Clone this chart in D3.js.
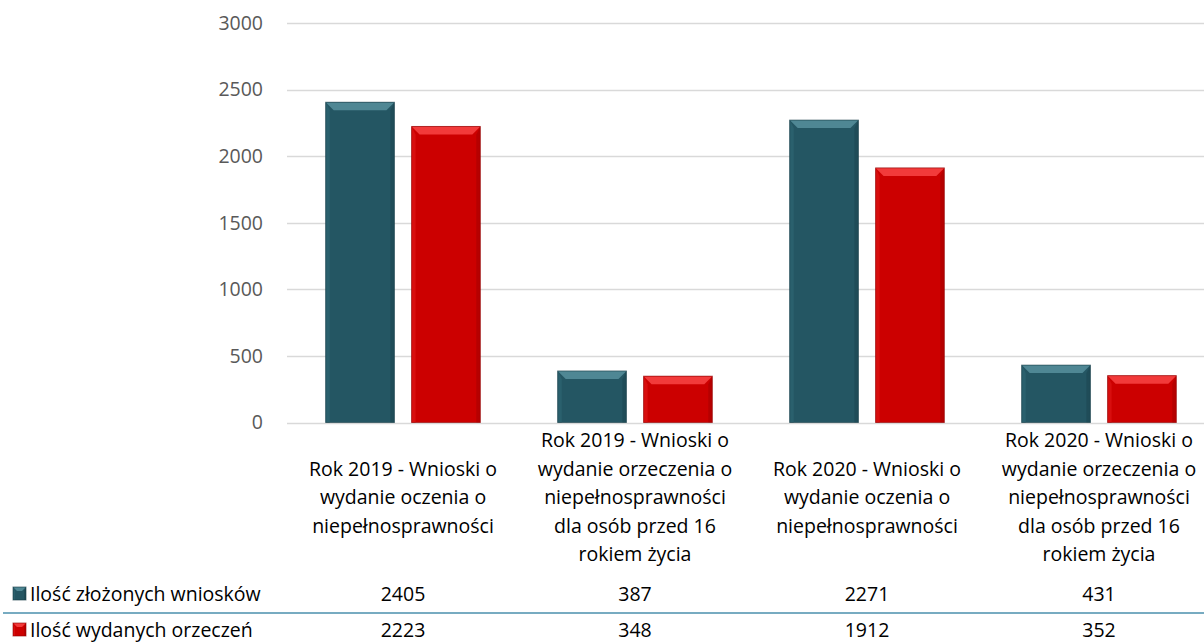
<!DOCTYPE html>
<html><head><meta charset="utf-8">
<script src="https://cdn.jsdelivr.net/npm/d3@7"></script>
<style>
html,body{margin:0;padding:0;background:#fff;}
svg{display:block;font-family:"Open Sans",sans-serif;}
</style></head>
<body>
<svg id="chart" width="1204" height="642"></svg>
<script>
const categories = [
  ["Rok 2019 - Wnioski o","wydanie oczenia o","niepełnosprawności"],
  ["Rok 2019 - Wnioski o","wydanie orzeczenia o","niepełnosprawności","dla osób przed 16","rokiem życia"],
  ["Rok 2020 - Wnioski o","wydanie oczenia o","niepełnosprawności"],
  ["Rok 2020 - Wnioski o","wydanie orzeczenia o","niepełnosprawności","dla osób przed 16","rokiem życia"]
];
const seriesNames = ["Ilość złożonych wniosków","Ilość wydanych orzeczeń"];
const zlozone = [2405, 387, 2271, 431];
const wydane = [2223, 348, 1912, 352];
const yTicks = [0, 500, 1000, 1500, 2000, 2500, 3000];

const series = [
  {name: seriesNames[0], values: zlozone, base:"#245663", light:"#4f8794", dark:"#163a44", side:"#2e6572"},
  {name: seriesNames[1], values: wydane, base:"#cc0000", light:"#f23a3a", dark:"#8c0000", side:"#dd1414"}
];

const FS = 19.5;
const svg = d3.select("#chart");
const left = 287, right = 287 + 4*232;
const x = d3.scaleBand().domain(d3.range(categories.length)).range([left, right]).paddingInner(0).paddingOuter(0);
const xs = d3.scaleBand().domain(d3.range(series.length)).range([0, x.bandwidth()]).paddingInner(0.2).paddingOuter(0.45);
const y = d3.scaleLinear().domain([0, 3000]).range([422.5, 23]);

// gridlines
svg.append("g").selectAll("line").data(yTicks).join("line")
  .attr("x1", left).attr("x2", 1204)
  .attr("y1", d => Math.round(y(d))+0.5).attr("y2", d => Math.round(y(d))+0.5)
  .attr("stroke", "#d9d9d9").attr("stroke-width", 1.5);

// y axis labels
const yAxis = d3.axisLeft(y).tickValues(yTicks).tickFormat(d3.format("d")).tickSize(0).tickPadding(0);
const ya = svg.append("g").attr("transform", `translate(263,0)`).call(yAxis);
ya.select(".domain").remove();
ya.attr("font-size", FS).attr("font-family", "Open Sans");
ya.selectAll("text").attr("fill", "#595959");

// bars with bevel
function bevelBar(g, bx, by, bw, bh, s, b) {
  b = Math.min(b, bh/2, bw/2);
  g.append("rect").attr("x", bx).attr("y", by).attr("width", bw).attr("height", bh).attr("fill", s.base);
  g.append("polygon").attr("points", `${bx},${by} ${bx+bw},${by} ${bx+bw-b},${by+b} ${bx+b},${by+b}`).attr("fill", s.light);
  g.append("polygon").attr("points", `${bx},${by} ${bx+b*0.5},${by+b} ${bx+b*0.5},${by+bh} ${bx},${by+bh}`).attr("fill", s.side).attr("opacity", 0.7);
  g.append("polygon").attr("points", `${bx+bw},${by} ${bx+bw-b*0.5},${by+b} ${bx+bw-b*0.5},${by+bh} ${bx+bw},${by+bh}`).attr("fill", s.dark).attr("opacity", 0.35);
  g.append("rect").attr("x", bx).attr("y", by).attr("width", bw).attr("height", bh)
    .attr("fill", "none").attr("stroke", s.dark).attr("stroke-width", 1).attr("opacity", 0.6);
}

const barsG = svg.append("g");
series.forEach((s, si) => {
  s.values.forEach((v, ci) => {
    const bx = x(ci) + xs(si);
    const by = y(v);
    bevelBar(barsG, bx, by, xs.bandwidth(), y(0) - by, s, 8);
  });
});

// category labels
const lineH = 28.5, labelCenter = 497.5;
categories.forEach((lines, ci) => {
  const cx = x(ci) + x.bandwidth()/2;
  const t = svg.append("text").attr("text-anchor", "middle").attr("font-size", FS).attr("fill", "#000");
  const y0 = labelCenter - (lines.length-1)*lineH/2;
  lines.forEach((ln, i) => {
    t.append("tspan").attr("x", cx).attr("y", y0 + i*lineH).attr("dy", "0.35em").text(ln);
  });
});

// data table
const rowY = [594, 630];
series.forEach((s, si) => {
  const ry = rowY[si];
  bevelBar(svg.append("g"), 13, ry - 7, 13, 13, s, 4);
  svg.append("text").attr("x", 30).attr("y", ry).attr("dy", "0.35em").attr("font-size", FS).attr("fill", "#000").text(s.name);
  s.values.forEach((v, ci) => {
    svg.append("text").attr("x", x(ci) + x.bandwidth()/2).attr("y", ry).attr("dy", "0.35em")
      .attr("text-anchor", "middle").attr("font-size", FS).attr("fill", "#000").text(v);
  });
});
svg.append("line").attr("x1", 3).attr("x2", 1204).attr("y1", 613).attr("y2", 613)
  .attr("stroke", "#4a8fad").attr("stroke-width", 1.5);
</script>
</body></html>
